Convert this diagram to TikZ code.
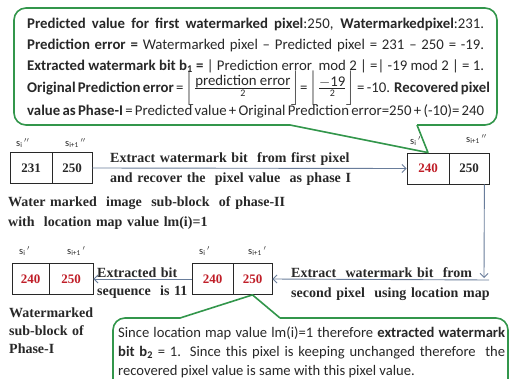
\documentclass[tikz,border=0pt]{standalone}
\usepackage{amsmath}
\usepackage{fontspec}
\setmainfont{Carlito}
\newfontfamily\tnr{Liberation Serif}
\usetikzlibrary{arrows.meta}
\definecolor{cgreen}{RGB}{50,150,75}
\definecolor{cred}{RGB}{192,30,40}
\definecolor{carrow}{RGB}{105,125,155}
\definecolor{ctext}{RGB}{40,40,40}
\newcommand{\numtxt}[1]{\mbox{\fontsize{14.8}{14.8}\selectfont #1}}
\newcommand{\dentxt}[1]{\mbox{\fontsize{10}{10}\selectfont #1}}
\begin{document}
\begin{tikzpicture}[x=1pt,y=-1pt,
 cell/.style={draw=ctext, line width=0.8pt, minimum height=31pt, inner sep=0pt, font=\tnr\bfseries\fontsize{13}{15}\selectfont, text=ctext},
 redcell/.style={cell, text=cred},
 lbl/.style={font=\fontsize{10.5}{12}\selectfont, inner sep=0pt, anchor=base west, text=ctext},
 serifb/.style={font=\tnr\bfseries\fontsize{14}{20}\selectfont, inner sep=0pt, align=left, anchor=base west, text width=300pt, text=ctext},
 callout/.style={draw=cgreen, line width=1.6pt, rounded corners=12pt},
 tail/.style={draw=cgreen, line width=1.6pt, line join=round},
 tline/.style={anchor=base west, inner sep=0pt, font=\fontsize{14.8}{17}\selectfont, text=ctext},
 bline/.style={anchor=base west, inner sep=0pt, font=\fontsize{14.6}{17}\selectfont, text=ctext},
 conn/.style={draw=carrow, line width=0.9pt, -{Straight Barb[length=4pt,width=8pt]}},
]
\useasboundingbox (0,0) rectangle (509,378);
\fill[white] (0,0) rectangle (509,378);
\clip (0,0) rectangle (509,378);

% top callout
\draw[callout] (290,125) -- (14,125) -- (14,8) -- (497,8) -- (497,125) -- (417,125);
\node[tline] (t1) at (27,28) {\makebox[457pt][s]{\textbf{Predicted value for first watermarked pixel}:250, \textbf{Watermarkedpixel}:231.}};
\node[tline] (t2) at (27,49.5) {\makebox[457pt][s]{\textbf{Prediction error =} Watermarked pixel -- Predicted pixel = 231 -- 250 = -19.}};
\node[tline] (t3) at (27,70) {\makebox[457pt][s]{\textbf{Extracted watermark bit b\textsubscript{1} =} | Prediction error\ \ mod 2 | =| -19 mod 2 | = 1.}};
\node[tline] (t4) at (27,92) {\makebox[457pt][s]{\textbf{Original Prediction error} = $\biggl\lfloor\frac{\numtxt{prediction error}}{\dentxt{2}}\biggr\rfloor$= $\biggl\lfloor\frac{\numtxt{$-$19}}{\dentxt{2}}\biggr\rfloor$ = -10. \textbf{Recovered pixel}}};
\node[tline] (t5) at (27,115) {\makebox[457pt][s]{\textbf{value as Phase-I} = Predicted value + Original Prediction error=250 + (-10)= 240}};

% block 1
\node[cell, minimum width=42pt] (c1a) at (31,168) {231};
\node[cell, minimum width=40pt] (c1b) at (72,168) {250};
\node[lbl] (l1a) at (16,146) {s\textsubscript{i}\,$^{\prime\prime}$};
\node[lbl] (l1b) at (65,146) {s\textsubscript{i+1}\,$^{\prime\prime}$};

% block 2
\node[redcell, minimum width=42pt] (c2a) at (428,168.5) {240};
\node[cell, minimum width=40pt] (c2b) at (469,168.5) {250};
\node[lbl] (l2a) at (410,144) {s\textsubscript{i}\,$^{\prime}$};
\node[lbl] (l2b) at (466,142) {s\textsubscript{i+1}\,$^{\prime\prime}$};

% tail of top callout (drawn over labels)
\draw[tail] (290,125) -- (c2a.north) -- (417,125);

% block 3
\node[redcell, minimum width=41pt] (c3a) at (212.5,279) {240};
\node[redcell, minimum width=39pt] (c3b) at (252.5,279) {250};
\node[lbl] (l3a) at (199,254) {s\textsubscript{i}\,$^{\prime}$};
\node[lbl] (l3b) at (248,254) {s\textsubscript{i+1}\,$^{\prime}$};

% block 4
\node[redcell, minimum width=37pt] (c4a) at (30.5,279) {240};
\node[redcell, minimum width=44pt] (c4b) at (71,279) {250};
\node[lbl] (l4a) at (19,254) {s\textsubscript{i}\,$^{\prime}$};
\node[lbl] (l4b) at (67,254) {s\textsubscript{i+1}\,$^{\prime}$};

% connectors
\draw[conn] (c1b.east) -- (c2a.west);
\coordinate (v1) at ([xshift=-5pt]c2b.south east);
\coordinate (v2) at (484,278);
\draw[conn] (v1) -- (v2);
\coordinate (h1) at (489,280);
\draw[conn] (h1) -- (c3b.east);
\draw[conn] (c3a.west) -- (c4b.east);

% texts
\node[serifb] (x1) at (110,162) {Extract watermark bit\ \ from first pixel\\and recover the\ \ pixel value\ \ as phase I};
\node[serifb] (x2) at (8,206) {Water marked\ \ image\ \ sub-block\ \ of phase-II\\with\ \ location map value lm(i)=1};
\node[serifb, text width=220pt] (x3) at (291,277) {Extract\ \ watermark bit\ \ from\\second pixel\ \ using location map};
\node[serifb, text width=100pt, font=\tnr\bfseries\fontsize{14}{18}\selectfont] (x4) at (97,277) {Extracted bit\\sequence\ \ is 11};
\node[serifb, text width=100pt, font=\tnr\bfseries\fontsize{14}{18}\selectfont] (x5) at (9,317) {Watermarked\\sub-block of\\Phase-I};

% bottom callout
\draw[callout] (180,318) -- (113,318) -- (113,400) -- (508,400) -- (508,318) -- (280,318);
\draw[tail] (180,318) -- (c3b.south) -- (280,318);
\node[bline] (b1) at (118,337) {\makebox[387pt][s]{Since location map value lm(i)=1 therefore \textbf{extracted watermark}}};
\node[bline] (b2) at (118,356) {\makebox[387pt][s]{\textbf{bit b\textsubscript{2}} = 1. Since this pixel is keeping unchanged therefore\ \ the}};
\node[bline] (b3) at (118,375) {recovered pixel value is same with this pixel value.};
\end{tikzpicture}
\end{document}
